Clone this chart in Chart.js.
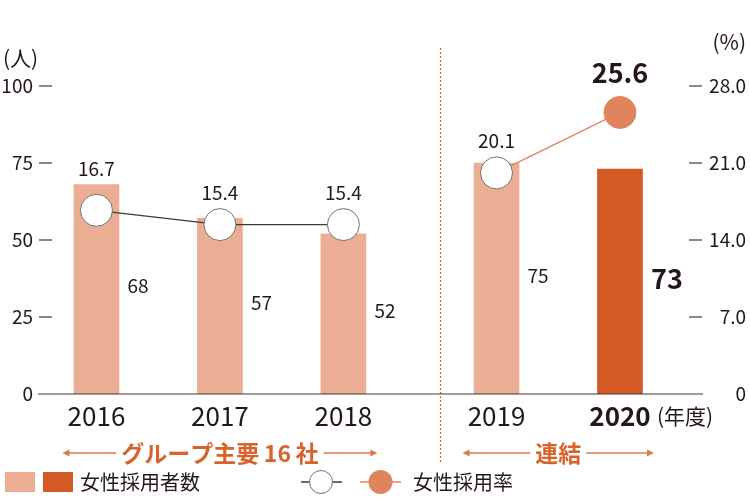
<!DOCTYPE html>
<html>
<head>
  <meta charset="utf-8">
  <title>女性採用者数・女性採用率</title>
  <script src="https://cdn.jsdelivr.net/npm/chart.js"></script>
  <style>
    html, body { margin: 0; padding: 0; background: #fff; }
    #wrap { width: 750px; height: 500px; }
  </style>
</head>
<body>
  <div id="wrap"><canvas id="hiringChart"></canvas></div>

  <script>
    // chart data
    var years = ['2016', '2017', '2018', '2019', '2020'];
    var hires = [68, 57, 52, 75, 73];
    var hireRate = [16.7, 15.4, 15.4, 20.1, 25.6];
    var countTicks = [0, 25, 50, 75, 100];
    var rateTicks = [0, 7, 14, 21, 28];
    var groupOf = [0, 0, 0, 1, 1];
    var groupNames = ['グループ主要\u200916\u2009社', '連結'];

    var FONT = '"Noto Sans CJK JP", "Noto Sans", sans-serif';
    var INK = '#231815';
    var ORANGE = '#D9622B';
    var ARROW = '#E07A4E';
    var LIGHT = '#EBAD93';
    var DARK = '#D45A25';
    var DOT = '#E0845E';
    var GRAY = '#3E3A39';

    // the second group sits a bit further to the right
    var xPos = years.map(function (y, i) { return i + groupOf[i] * 0.24; });
    var last = years.length - 1;

    function font(size, bold) {
      return (bold ? 'bold ' : '') + size + 'px ' + FONT;
    }

    function arrowHead(c, x, y, dir) {
      c.beginPath();
      c.moveTo(x, y);
      c.lineTo(x - dir * 7, y - 3.5);
      c.lineTo(x - dir * 7, y + 3.5);
      c.closePath();
      c.fill();
    }

    var decor = {
      id: 'decor',
      beforeDatasetsDraw: function (chart) {
        var c = chart.ctx, x = chart.scales.x;
        var a = x.getPixelForValue(xPos[2]), b = x.getPixelForValue(xPos[3]);
        var split = Math.round(a + (b - a) * 0.63) + 0.5;
        c.save();
        c.strokeStyle = ORANGE;
        c.lineWidth = 1.2;
        c.setLineDash([2, 2]);
        c.beginPath();
        c.moveTo(split, 48);
        c.lineTo(split, 464);
        c.stroke();
        c.restore();
      },
      afterDatasetsDraw: function (chart) {
        var c = chart.ctx, area = chart.chartArea;
        var x = chart.scales.x, y = chart.scales.y, y2 = chart.scales.y2;
        var base = y.getPixelForValue(0);
        c.save();

        // baseline
        c.strokeStyle = GRAY;
        c.lineWidth = 1.2;
        c.beginPath();
        c.moveTo(area.left - 14, base);
        c.lineTo(area.right + 13, base);
        c.stroke();

        // left axis
        c.fillStyle = INK;
        c.font = font(19);
        c.textBaseline = 'middle';
        c.textAlign = 'right';
        countTicks.forEach(function (v) {
          var py = y.getPixelForValue(v);
          c.fillText(String(v), area.left - 19, py);
          if (v !== 0) {
            c.beginPath();
            c.moveTo(area.left - 13, py);
            c.lineTo(area.left, py);
            c.stroke();
          }
        });
        // right axis
        rateTicks.forEach(function (v) {
          var py = y2.getPixelForValue(v);
          c.fillText(v === 0 ? '0' : v.toFixed(1), area.right + 56, py);
          if (v !== 0) {
            c.beginPath();
            c.moveTo(area.right - 1, py);
            c.lineTo(area.right + 12, py);
            c.stroke();
          }
        });
        c.font = font(21);
        c.textAlign = 'left';
        c.fillText('(人)', 3, 58);
        c.textAlign = 'right';
        c.fillText('(%)', 746, 42);

        // year labels
        c.textAlign = 'center';
        years.forEach(function (yr, i) {
          c.font = font(26, i === last);
          c.fillText(yr, x.getPixelForValue(xPos[i]), 416);
        });
        c.font = font(21);
        c.textAlign = 'left';
        c.fillText('(年度)', x.getPixelForValue(xPos[last]) + 37, 416);

        // values
        var barMeta = chart.getDatasetMeta(0);
        var lineMeta = chart.getDatasetMeta(1);
        years.forEach(function (yr, i) {
          var bold = i === last;
          var bar = barMeta.data[i];
          var pt = lineMeta.data[i];
          var top = Math.min(bar.y, pt.y - 16);
          c.fillStyle = INK;
          c.textAlign = 'center';
          c.textBaseline = 'alphabetic';
          c.font = font(bold ? 27 : 19, bold);
          c.fillText(hireRate[i].toFixed(1), pt.x, top - (bold ? 13 : 9));
          c.textAlign = 'left';
          c.textBaseline = 'middle';
          c.fillText(String(hires[i]), bar.x + 31, (bar.y + base) / 2 - 3);
        });

        // group captions with arrows
        groupNames.forEach(function (name, g) {
          var idx = [];
          groupOf.forEach(function (v, i) { if (v === g) idx.push(i); });
          var x0 = x.getPixelForValue(xPos[idx[0]]) - 34;
          var x1 = x.getPixelForValue(xPos[idx[idx.length - 1]]) + 34;
          var mid = (x0 + x1) / 2;
          var py = 453;
          c.font = font(23, true);
          var w = c.measureText(name).width;
          c.fillStyle = ORANGE;
          c.textAlign = 'center';
          c.textBaseline = 'middle';
          c.fillText(name, mid, py);
          c.strokeStyle = ARROW;
          c.fillStyle = ARROW;
          c.lineWidth = 1.5;
          c.beginPath();
          c.moveTo(x0 + 2, py);
          c.lineTo(mid - w / 2 - 5, py);
          c.moveTo(mid + w / 2 + 5, py);
          c.lineTo(x1 - 2, py);
          c.stroke();
          arrowHead(c, x0, py, -1);
          arrowHead(c, x1, py, 1);
        });

        // legend
        var ly = 482;
        c.fillStyle = LIGHT;
        c.fillRect(5, ly - 10, 30, 20);
        c.fillStyle = DARK;
        c.fillRect(43, ly - 10, 30, 20);
        c.fillStyle = INK;
        c.font = font(20);
        c.textAlign = 'left';
        c.fillText('女性採用者数', 80, ly);

        c.lineWidth = 1.5;
        c.strokeStyle = GRAY;
        c.beginPath();
        c.moveTo(301, ly);
        c.lineTo(342, ly);
        c.stroke();
        c.fillStyle = '#fff';
        c.strokeStyle = '#727171';
        c.lineWidth = 1;
        c.beginPath();
        c.arc(321, ly, 11.5, 0, Math.PI * 2);
        c.fill();
        c.stroke();

        c.strokeStyle = DOT;
        c.lineWidth = 1.5;
        c.beginPath();
        c.moveTo(360, ly);
        c.lineTo(401, ly);
        c.stroke();
        c.fillStyle = DOT;
        c.beginPath();
        c.arc(380.5, ly, 12, 0, Math.PI * 2);
        c.fill();
        c.fillStyle = INK;
        c.fillText('女性採用率', 413, ly);

        c.restore();
      }
    };

    var ctx = document.getElementById('hiringChart').getContext('2d');
    var chart = new Chart(ctx, {
      type: 'bar',
      data: {
        datasets: [
          {
            type: 'bar',
            label: '女性採用者数',
            data: years.map(function (yr, i) { return { x: xPos[i], y: hires[i] }; }),
            backgroundColor: years.map(function (yr, i) { return i === last ? DARK : LIGHT; }),
            barThickness: 45,
            yAxisID: 'y',
            order: 2
          },
          {
            type: 'line',
            label: '女性採用率',
            data: years.map(function (yr, i) { return { x: xPos[i], y: hireRate[i] }; }),
            yAxisID: 'y2',
            borderWidth: 1.3,
            borderColor: GRAY,
            segment: {
              borderColor: function (s) {
                if (groupOf[s.p0DataIndex] !== groupOf[s.p1DataIndex]) return 'rgba(0,0,0,0)';
                return groupOf[s.p0DataIndex] ? DOT : GRAY;
              }
            },
            pointRadius: 16,
            pointHoverRadius: 16,
            pointBorderWidth: 1,
            pointBackgroundColor: years.map(function (yr, i) { return i === last ? DOT : '#fff'; }),
            pointBorderColor: years.map(function (yr, i) { return i === last ? DOT : '#727171'; }),
            order: 1
          }
        ]
      },
      options: {
        responsive: true,
        maintainAspectRatio: false,
        animation: false,
        layout: { padding: { left: 52, right: 60, top: 86, bottom: 106 } },
        plugins: {
          legend: { display: false },
          tooltip: { enabled: false }
        },
        scales: {
          x: {
            type: 'linear',
            display: false,
            offset: false,
            min: xPos[0] - 0.36,
            max: xPos[last] + 0.567
          },
          y: { display: false, min: 0, max: 100 },
          y2: { display: false, position: 'right', min: 0, max: 28 }
        }
      },
      plugins: [decor]
    });
  </script>
</body>
</html>
